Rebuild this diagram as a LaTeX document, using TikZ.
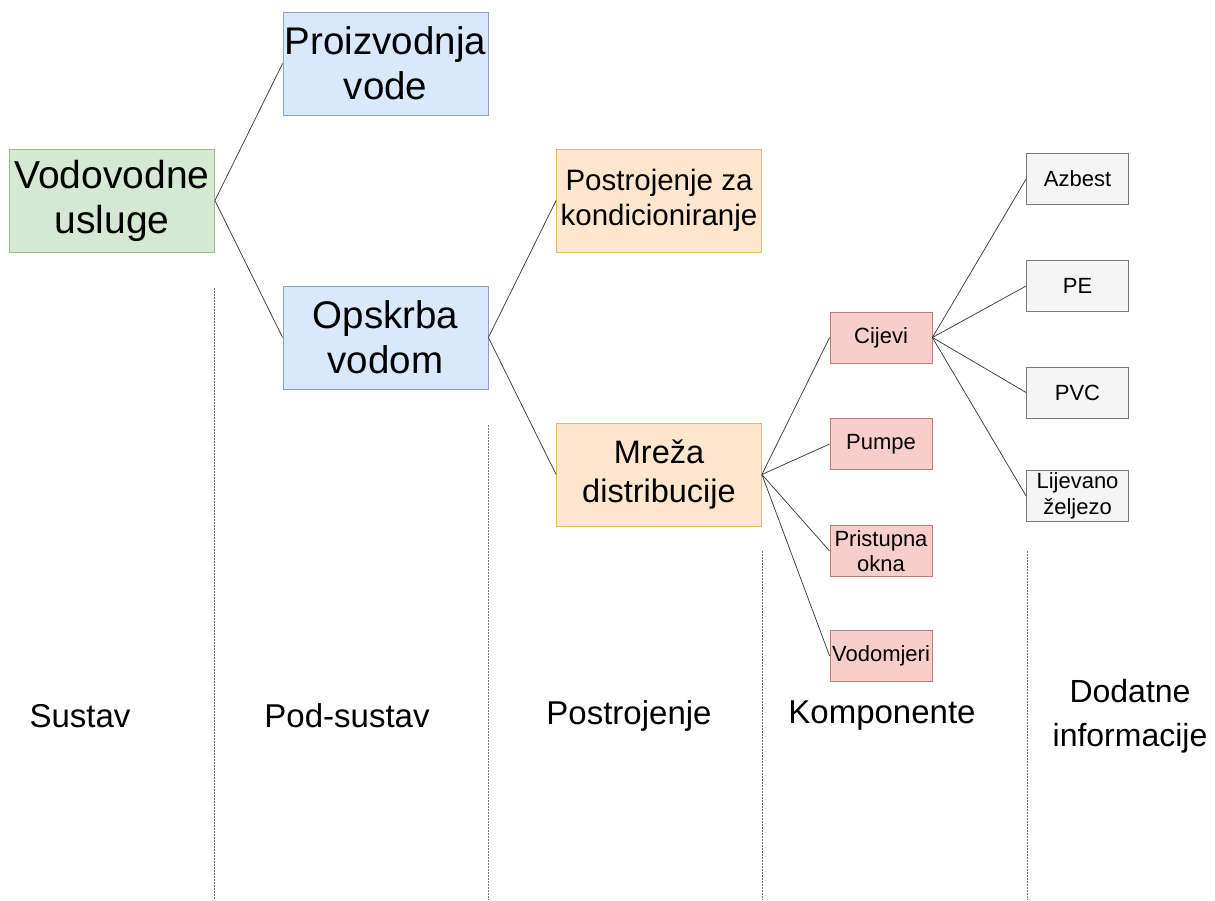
\documentclass[tikz,border=0pt]{standalone}
\usepackage{fontspec}
\setmainfont{Liberation Sans}
\definecolor{gfill}{HTML}{D5E8D4}\definecolor{gline}{HTML}{9CBF8A}
\definecolor{bfill}{HTML}{DAE8FC}\definecolor{bline}{HTML}{8BA3C7}
\definecolor{ofill}{HTML}{FFE6CC}\definecolor{oline}{HTML}{DCBF6A}
\definecolor{rfill}{HTML}{F8CECC}\definecolor{rline}{HTML}{C07A77}
\definecolor{sfill}{HTML}{F5F5F5}\definecolor{sline}{HTML}{7A7A7A}
\begin{document}
\begin{tikzpicture}[x=1pt,y=-1pt,
  box/.style={rectangle, draw, line width=0.8pt, inner sep=0pt, align=center},
  bigbox/.style={box, minimum width=205pt, minimum height=103pt},
  smallbox/.style={box, minimum width=102pt, minimum height=51pt, font=\fontsize{22}{25.5}\selectfont},
  green/.style={fill=gfill, draw=gline},
  blue/.style={fill=bfill, draw=bline},
  orange/.style={fill=ofill, draw=oline},
  red/.style={fill=rfill, draw=rline},
  grey/.style={fill=sfill, draw=sline},
  link/.style={draw=black!80, line width=0.7pt},
  sep/.style={draw=black!55, line width=0.8pt, dash pattern=on 1.5pt off 1.5pt},
  lvl/.style={font=\fontsize{33}{44}\selectfont, align=center}
]
\useasboundingbox (0,0) rectangle (1215,900);
\fill[white] (0,0) rectangle (1215,900);

\node[bigbox, green, font=\fontsize{39}{45}\selectfont] (vu) at (112,200.5) {Vodovodne\\usluge};
\node[bigbox, blue, font=\fontsize{38.5}{45}\selectfont] (pv) at (385.5,63.5) {Proizvodnja\\vode};
\node[bigbox, blue, font=\fontsize{38.5}{45}\selectfont] (ov) at (385.5,337.5) {Opskrba\\vodom};
\node[bigbox, orange, font=\fontsize{29.5}{34.5}\selectfont] (pk) at (659,200.5) {Postrojenje za\\kondicioniranje};
\node[bigbox, orange, font=\fontsize{32.5}{39}\selectfont] (md) at (659,474.5) {Mreža\\distribucije};

\node[smallbox, red] (cij) at (881,337.5) {Cijevi};
\node[smallbox, red] (pum) at (881,444) {Pumpe};
\node[smallbox, red] (pri) at (881,551) {Pristupna\\okna};
\node[smallbox, red] (vod) at (881,656) {Vodomjeri};

\node[smallbox, grey] (az) at (1077.5,179) {Azbest};
\node[smallbox, grey] (pe) at (1077.5,286) {PE};
\node[smallbox, grey] (pvc) at (1077.5,392.5) {PVC};
\node[smallbox, grey] (lz) at (1077.5,496) {Lijevano\\željezo};

\draw[link] (vu.east) -- (pv.west);
\draw[link] (vu.east) -- (ov.west);
\draw[link] (ov.east) -- (pk.west);
\draw[link] (ov.east) -- (md.west);
\draw[link] (md.east) -- (cij.west);
\draw[link] (md.east) -- (pum.west);
\draw[link] (md.east) -- (pri.west);
\draw[link] (md.east) -- (vod.west);
\draw[link] (cij.east) -- (az.west);
\draw[link] (cij.east) -- (pe.west);
\draw[link] (cij.east) -- (pvc.west);
\draw[link] (cij.east) -- (lz.west);

\coordinate (s1a) at (214,288); \coordinate (s1b) at (214,900);
\coordinate (s2a) at (488,425); \coordinate (s2b) at (488,900);
\coordinate (s3a) at (762,551); \coordinate (s3b) at (762,900);
\coordinate (s4a) at (1027,551); \coordinate (s4b) at (1027,900);
\draw[sep] (s1a) -- (s1b);
\draw[sep] (s2a) -- (s2b);
\draw[sep] (s3a) -- (s3b);
\draw[sep] (s4a) -- (s4b);

\node[lvl] (l1) at (80,716) {Sustav};
\node[lvl] (l2) at (347,716) {Pod-sustav};
\node[lvl] (l3) at (629,716) {Postrojenje};
\node[lvl] (l4) at (882,716) {Komponente};
\node[lvl, font=\fontsize{32}{44}\selectfont] (l5) at (1130,716) {Dodatne\\informacije};
\end{tikzpicture}
\end{document}
